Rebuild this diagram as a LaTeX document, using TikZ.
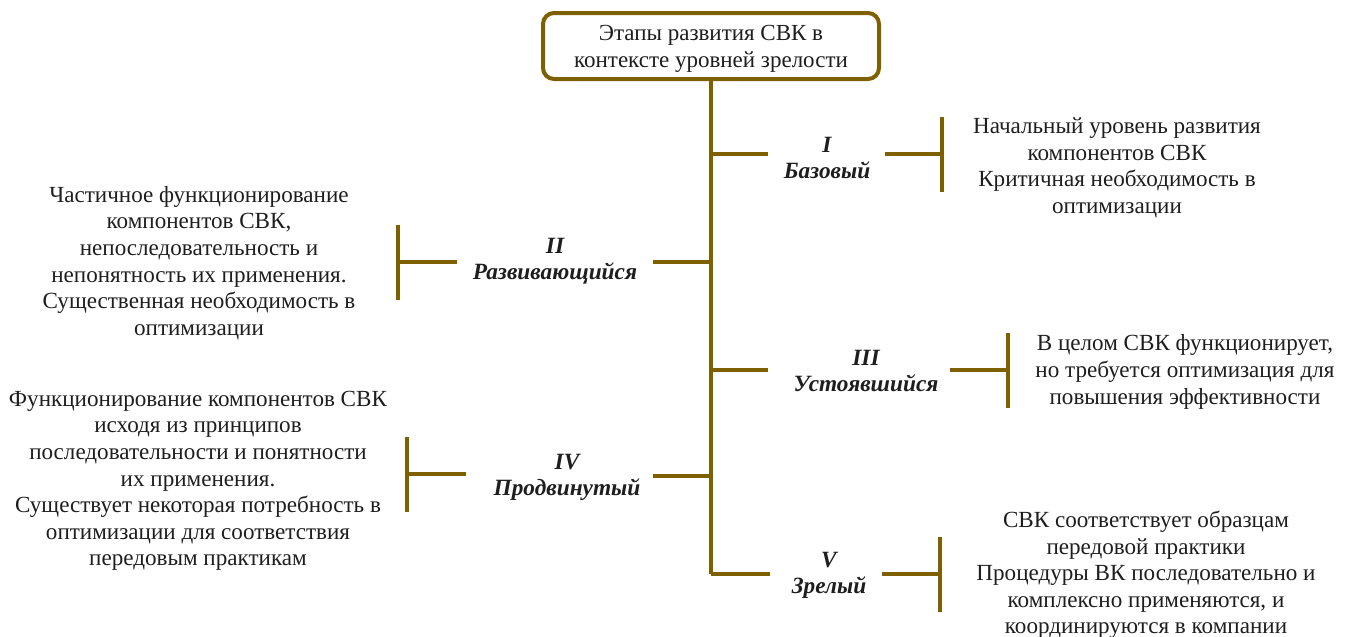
\documentclass[tikz,border=0pt]{standalone}
\usepackage{fontspec}
\setmainfont{Liberation Serif}
\definecolor{gold}{RGB}{127,96,0}
\definecolor{ink}{RGB}{30,30,30}
\begin{document}
\begin{tikzpicture}[x=1pt,y=-1pt,
  stem/.style={draw=gold,line width=3.6pt},
  body/.style={align=center,text=ink,inner sep=0pt,font=\fontsize{23.1}{26.6}\selectfont},
  level/.style={align=center,text=ink,inner sep=0pt,font=\fontsize{23.3}{26}\selectfont\bfseries\itshape},
  titlebox/.style={draw=gold,line width=4pt,rounded corners=11pt,fill=white,
    minimum width=336pt,minimum height=66pt,align=center,text=ink,
    text height=48.5pt,inner ysep=0pt,
    font=\fontsize{23}{27}\selectfont}]
\useasboundingbox (0,0) rectangle (1355,637);

% title
\node[titlebox] (title) at (711,46) {Этапы развития СВК в\\контексте уровней зрелости};

% trunk
\coordinate (end) at (711,574);
\draw[stem] (title.south) -- (end);

% junctions on the trunk
\coordinate (j1) at (711,154);
\coordinate (j2) at (711,262);
\coordinate (j3) at (711,370);
\coordinate (j4) at (711,476);

% level labels
\node[level] (l1) at (827,158) {I\\Базовый};
\node[level] (l2) at (555,261) {II\\Развивающийся};
\node[level] (l3) at (866,371) {III\\Устоявшийся};
\node[level] (l4) at (567,477) {IV\\Продвинутый};
\node[level] (l5) at (829,575) {V\\Зрелый};

% stub ends near the labels
\coordinate (a1) at (768,154);  \coordinate (b1) at (885,154);  \coordinate (c1) at (942,154);
\coordinate (a2) at (653,262);  \coordinate (b2) at (457,262);  \coordinate (c2) at (398,262);
\coordinate (a3) at (768,370);  \coordinate (b3) at (950,370);  \coordinate (c3) at (1008,370);
\coordinate (a4) at (653,476);  \coordinate (b4) at (466,474);  \coordinate (c4) at (407,474);
\coordinate (a5) at (770,574);  \coordinate (b5) at (882,574);  \coordinate (c5) at (940,574);

\draw[stem] (j1) -- (a1);  \draw[stem] (b1) -- (c1);
\draw[stem] (j2) -- (a2);  \draw[stem] (b2) -- (c2);
\draw[stem] (j3) -- (a3);  \draw[stem] (b3) -- (c3);
\draw[stem] (j4) -- (a4);  \draw[stem] (b4) -- (c4);
\draw[stem] (end) -- (a5); \draw[stem] (b5) -- (c5);

% end bars
\foreach \c in {c1,c2,c3,c4,c5}
  \draw[stem] ([yshift=-37.5pt]\c) -- ([yshift=37.5pt]\c);

% descriptions
\node[body] (t1) at (1117,168) {Начальный уровень развития\\компонентов СВК\\Критичная необходимость в\\оптимизации};
\node[body] (t2) at (199,263) {Частичное функционирование\\компонентов СВК,\\непоследовательность и\\непонятность их применения.\\Существенная необходимость в\\оптимизации};
\node[body] (t3) at (1185,372) {В целом СВК функционирует,\\но требуется оптимизация для\\повышения эффективности};
\node[body] (t4) at (198,481) {Функционирование компонентов СВК\\исходя из принципов\\последовательности и понятности\\их применения.\\Существует некоторая потребность в\\оптимизации для соответствия\\передовым практикам};
\node[body] (t5) at (1146,575) {СВК соответствует образцам\\передовой практики\\Процедуры ВК последовательно и\\комплексно применяются, и\\координируются в компании};
\end{tikzpicture}
\end{document}
